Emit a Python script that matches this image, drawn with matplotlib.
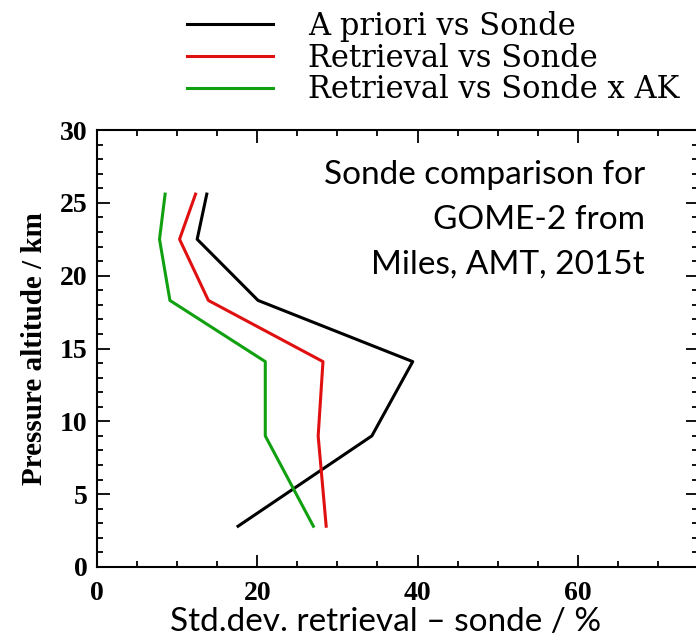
import matplotlib
matplotlib.use("Agg")
import matplotlib.pyplot as plt
from matplotlib.ticker import MultipleLocator

# altitude levels (km) and std. dev. values (%)
altitude = [25.6, 22.5, 18.3, 14.1, 9.0, 2.8]
apriori = [13.7, 12.5, 20.1, 39.4, 34.3, 17.6]
retrieval = [12.3, 10.3, 13.9, 28.2, 27.6, 28.6]
retrieval_ak = [8.5, 7.8, 9.1, 21.0, 21.0, 27.0]

labels = ["A priori vs Sonde", "Retrieval vs Sonde", "Retrieval vs Sonde x AK"]
colors = ["black", "#e01010", "#10a010"]

serif = "Liberation Serif"
legend_serif = "DejaVu Serif"
sans = "Lato"

W, H = 696, 643
fig = plt.figure(figsize=(W / 100, H / 100), dpi=100)
ax = fig.add_axes([97 / W, (H - 567) / H, (698 - 97) / W, (567 - 130) / H])

lines = []
for vals, c, lab in zip([apriori, retrieval, retrieval_ak], colors, labels):
    l, = ax.plot(vals, altitude, color=c, lw=2.2, label=lab)
    lines.append(l)

ax.set_xlim(0, 75)
ax.set_ylim(0, 30)
ax.xaxis.set_major_locator(MultipleLocator(20))
ax.xaxis.set_minor_locator(MultipleLocator(5))
ax.yaxis.set_major_locator(MultipleLocator(5))
ax.yaxis.set_minor_locator(MultipleLocator(1))
ax.tick_params(which="both", direction="in", top=True, right=True, width=1.3)
ax.tick_params(which="major", length=9)
ax.tick_params(which="minor", length=4)
ax.tick_params(axis="x", which="major", pad=10)
ax.tick_params(axis="y", which="major", pad=7)
for sp in ax.spines.values():
    sp.set_linewidth(1.5)
for t in ax.get_xticklabels() + ax.get_yticklabels():
    t.set_fontfamily(serif)
    t.set_fontsize(20)
    t.set_fontweight("bold")

ax.set_ylabel("Pressure altitude / km", fontfamily=serif, fontsize=21,
              fontweight="bold", labelpad=8)

fig.text(386 / W, (H - 622) / H, "Std.dev. retrieval \u2013 sonde / %",
         fontfamily=sans, fontsize=24, ha="center", va="center")

ax.text(645 / W, (H - 220) / H, "Sonde comparison for\nGOME-2 from\nMiles, AMT, 2015t",
        transform=fig.transFigure, fontfamily=sans, fontsize=24,
        ha="right", va="center", multialignment="right", linespacing=1.62)

fig.legend(handles=lines, loc="upper left", bbox_to_anchor=(187 / W, 1 - 11 / H),
           frameon=False, prop={"family": legend_serif, "size": 22},
           handlelength=2.8, handletextpad=1.15, labelspacing=0.02,
           borderpad=0, borderaxespad=0)

fig.savefig("out.png", dpi=100)
